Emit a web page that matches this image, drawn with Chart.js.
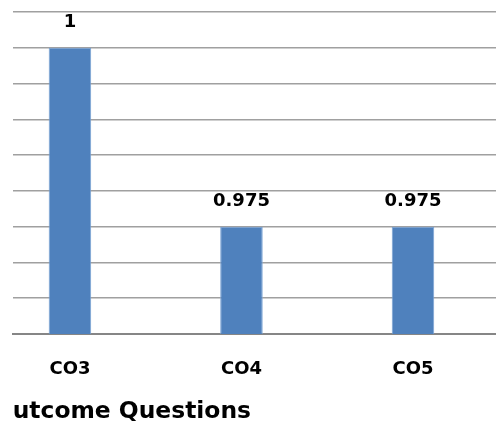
<!doctype html>
<html>

<head>
  <meta charset="utf-8">
  <script src="https://cdn.jsdelivr.net/npm/chart.js"></script>
  <style>
    html, body { margin: 0; padding: 0; background: #fff; }
    #wrap { width: 496px; height: 431px; }
  </style>
</head>

<body>
  <div id="wrap"><canvas id="coChart"></canvas></div>

  <script>
    // data
    var categories = ['CO3', 'CO4', 'CO5'];
    var values = [1, 0.975, 0.975];
    var valueLabels = ['1', '0.975', '0.975'];
    var axisTitle = 'Outcome Questions';

    var fontFamily = '"DejaVu Sans", Verdana, sans-serif';

    // numbers above the bars
    var barLabels = {
      id: 'barLabels',
      afterDatasetsDraw: function (chart) {
        var ctx = chart.ctx;
        var meta = chart.getDatasetMeta(0);
        ctx.save();
        ctx.font = 'bold 18px ' + fontFamily;
        ctx.fillStyle = '#000';
        ctx.textAlign = 'center';
        ctx.textBaseline = 'middle';
        meta.data.forEach(function (bar, i) {
          ctx.fillText(valueLabels[i], bar.x, bar.y - 25);
        });
        ctx.restore();
      }
    };

    // axis title, cut at the left edge of the plot like the original
    var bottomTitle = {
      id: 'bottomTitle',
      afterDraw: function (chart) {
        var ctx = chart.ctx;
        var left = chart.chartArea.left;
        ctx.save();
        ctx.beginPath();
        ctx.rect(left, 380, chart.width - left, 51);
        ctx.clip();
        ctx.font = 'bold 23.4px ' + fontFamily;
        ctx.fillStyle = '#000';
        ctx.textAlign = 'right';
        ctx.textBaseline = 'middle';
        ctx.fillText(axisTitle, 251, 412);
        ctx.restore();
      }
    };

    var ctx = document.getElementById('coChart').getContext('2d');
    var coChart = new Chart(ctx, {
      type: 'bar',
      data: {
        datasets: [{
          data: values.map(function (v, i) { return { x: i, y: v }; }),
          backgroundColor: '#4f81bd',
          borderColor: '#7aa3d4',
          borderWidth: 1,
          categoryPercentage: 1,
          barPercentage: 0.248
        }]
      },
      plugins: [barLabels, bottomTitle],
      options: {
        responsive: true,
        maintainAspectRatio: false,
        animation: false,
        layout: { padding: { top: 12, left: 13, right: 0, bottom: 0 } },
        plugins: {
          legend: { display: false },
          tooltip: { enabled: false }
        },
        scales: {
          x: {
            type: 'linear',
            offset: false,
            min: -0.332,
            max: 2.484,
            afterBuildTicks: function (scale) {
              scale.ticks = categories.map(function (c, i) { return { value: i }; });
            },
            afterFit: function (scale) { scale.height = 97; },
            grid: { display: false, drawTicks: false },
            border: { display: true, color: '#868686', width: 2 },
            ticks: {
              padding: 25,
              color: '#000',
              font: { family: fontFamily, size: 18, weight: 'bold' },
              callback: function (v) { return categories[v]; }
            }
          },
          y: {
            min: 0.96,
            max: 1.005,
            afterFit: function (scale) { scale.width = 0; },
            grid: { color: '#a0a0a0', lineWidth: 1.5, drawTicks: false },
            border: { display: false },
            ticks: { display: false, stepSize: 0.005 }
          }
        }
      }
    });
  </script>
</body>

</html>
